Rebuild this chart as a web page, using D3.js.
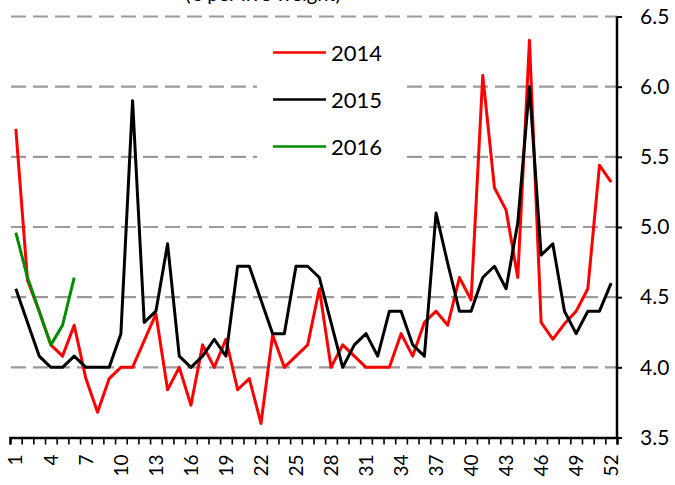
<!DOCTYPE html>
<html>
<head>
<meta charset="utf-8">
<script src="https://cdn.jsdelivr.net/npm/d3@7"></script>
<style>
  body { margin: 0; background: #fff; }
  svg { display: block; font-family: Lato, "Open Sans", sans-serif; }
</style>
</head>
<body>
<div id="chart"></div>
<script>
// weeks 1..52
var weeks = d3.range(1, 53);
var weekLabels = [1, 4, 7, 10, 13, 16, 19, 22, 25, 28, 31, 34, 37, 40, 43, 46, 49, 52];
var yTicks = [3.5, 4.0, 4.5, 5.0, 5.5, 6.0, 6.5];

var values2014 = [5.70, 4.62, 4.40, 4.16, 4.08, 4.30, 3.92, 3.68, 3.92, 4.00,
  4.00, 4.19, 4.38, 3.84, 4.00, 3.73, 4.16, 4.00, 4.20, 3.84,
  3.92, 3.60, 4.23, 4.00, 4.08, 4.16, 4.56, 4.00, 4.16, 4.08,
  4.00, 4.00, 4.00, 4.24, 4.08, 4.32, 4.40, 4.30, 4.64, 4.48,
  6.08, 5.28, 5.12, 4.64, 6.33, 4.32, 4.20, 4.31, 4.40, 4.56,
  5.44, 5.32];

var values2015 = [4.56, 4.32, 4.08, 4.00, 4.00, 4.08, 4.00, 4.00, 4.00, 4.24,
  5.90, 4.32, 4.40, 4.88, 4.08, 4.00, 4.08, 4.20, 4.08, 4.72,
  4.72, 4.48, 4.24, 4.24, 4.72, 4.72, 4.64, 4.32, 4.00, 4.16,
  4.24, 4.08, 4.40, 4.40, 4.16, 4.08, 5.10, 4.74, 4.40, 4.40,
  4.64, 4.72, 4.56, 5.03, 6.00, 4.80, 4.88, 4.40, 4.24, 4.40,
  4.40, 4.60];

var values2016 = [4.96, 4.64, 4.40, 4.16, 4.30, 4.64];

var seriesNames = ["2014", "2015", "2016"];
var seriesColors = ["#ff0000", "#000000", "#008c00"];

var width = 675;
var height = 485;
var plotLeft = 10, plotRight = 617, plotTop = 16.5, plotBottom = 437.5;

var svg = d3.select("#chart").append("svg")
  .attr("width", width)
  .attr("height", height);

var xScale = d3.scaleBand(weeks, [plotLeft, plotRight]);
var xEdge = d3.scaleLinear([0.5, 52.5], [plotLeft, plotRight]);
var yScale = d3.scaleLinear([3.5, 6.5], [plotBottom, plotTop]);

// title, cut off at the top like the original
svg.append("text")
  .attr("x", 263)
  .attr("y", 1)
  .attr("text-anchor", "middle")
  .style("font-size", "20px")
  .text("(€ per live weight)");

// dashed gridlines
svg.append("g")
  .selectAll("line")
  .data(yTicks.slice(1))
  .join("line")
  .attr("x1", plotLeft + 1)
  .attr("x2", plotRight)
  .attr("y1", d => yScale(d))
  .attr("y2", d => yScale(d))
  .attr("stroke", "#9a9a9a")
  .attr("stroke-width", 2.2)
  .attr("stroke-dasharray", "15,7");

// legend box hides grid behind it
svg.append("rect")
  .attr("x", 257)
  .attr("y", 26)
  .attr("width", 144)
  .attr("height", 138)
  .attr("fill", "#fff");

// x axis: ticks on week boundaries
var xTickAxis = d3.axisBottom(xEdge)
  .tickValues(d3.range(0.5, 53, 1))
  .tickSize(7)
  .tickFormat("");

svg.append("g")
  .attr("transform", "translate(0," + plotBottom + ")")
  .call(xTickAxis)
  .call(function (g) {
    g.select(".domain").attr("stroke-width", 2.5);
    g.selectAll(".tick line").attr("stroke-width", 1.6);
  });

var xLabelAxis = d3.axisBottom(xScale)
  .tickValues(weekLabels)
  .tickSize(0);

svg.append("g")
  .attr("transform", "translate(0," + plotBottom + ")")
  .call(xLabelAxis)
  .call(function (g) {
    g.select(".domain").remove();
    g.selectAll("text")
      .attr("transform", "rotate(-90)")
      .attr("x", -17)
      .attr("y", 0)
      .attr("dy", "0.35em")
      .attr("text-anchor", "end")
      .style("font-size", "19px")
      .style("font-family", "Lato, sans-serif")
      .attr("fill", "#000");
  });

// y axis on the right
var yAxis = d3.axisRight(yScale)
  .tickValues(yTicks)
  .tickSize(5)
  .tickPadding(18)
  .tickFormat(d3.format(".1f"));

svg.append("g")
  .attr("transform", "translate(" + plotRight + ",0)")
  .call(yAxis)
  .call(function (g) {
    g.select(".domain").attr("stroke-width", 2.5).attr("d", "M0," + plotTop + "V" + plotBottom);
    g.selectAll(".tick line").attr("stroke-width", 2);
    g.selectAll("text")
      .style("font-size", "21px")
      .style("font-family", "Lato, sans-serif")
      .attr("fill", "#000");
  });

// lines
var line = d3.line()
  .x(function (d, i) { return xScale(weeks[i]) + xScale.bandwidth() / 2; })
  .y(function (d) { return yScale(d); });

var allSeries = [values2014, values2015, values2016];

svg.append("g")
  .selectAll("path")
  .data(allSeries)
  .join("path")
  .attr("d", line)
  .attr("fill", "none")
  .attr("stroke", function (d, i) { return seriesColors[i]; })
  .attr("stroke-width", 3)
  .attr("stroke-linejoin", "round");

// legend
var legend = svg.append("g")
  .selectAll("g")
  .data(seriesNames)
  .join("g")
  .attr("transform", function (d, i) { return "translate(273," + (52.5 + i * 47) + ")"; });

legend.append("line")
  .attr("x1", 0)
  .attr("x2", 53)
  .attr("stroke", function (d, i) { return seriesColors[i]; })
  .attr("stroke-width", 2.5);

legend.append("text")
  .attr("x", 58)
  .attr("y", 8)
  .style("font-size", "22px")
  .text(function (d) { return d; });
</script>
</body>
</html>
